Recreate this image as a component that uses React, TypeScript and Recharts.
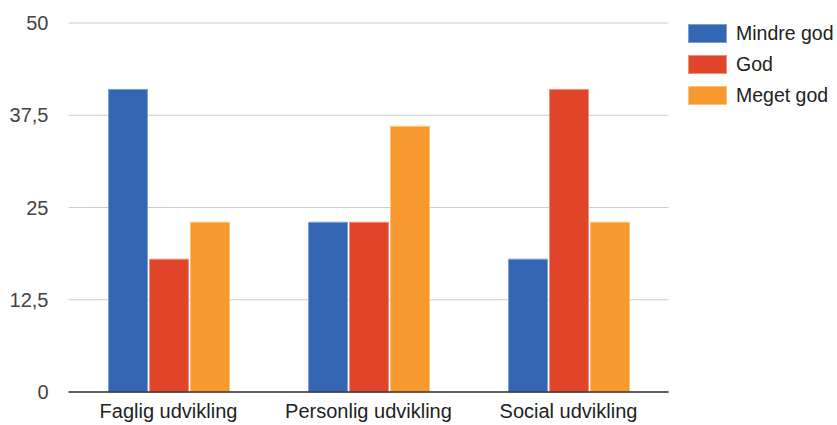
import React from 'react';
import { BarChart, Bar, XAxis, YAxis, CartesianGrid } from 'recharts';

const categories = ['Faglig udvikling', 'Personlig udvikling', 'Social udvikling'];
const mindreGod = [41, 23, 18];
const god = [18, 23, 41];
const megetGod = [23, 36, 23];
const yTicks = [0, 12.5, 25, 37.5, 50];

const seriesNames = ['Mindre god', 'God', 'Meget god'];
const colors = ['#3366b3', '#e0452a', '#f8992f'];
const edges = ['#7d9fd2', '#ee8f7c', '#fbc27f'];

const data = categories.map((c, i) => ({
  name: c,
  a: mindreGod[i],
  b: god[i],
  c: megetGod[i],
}));

const FONT = '"Liberation Sans", Arial, sans-serif';

const LegendBox = () => (
  <div style={{ position: 'absolute', left: 688, top: 18, width: 149, fontFamily: FONT }}>
    {seriesNames.map((n, i) => (
      <div key={n} style={{ display: 'flex', alignItems: 'center', height: 31 }}>
        <div style={{ width: 39, height: 19, background: colors[i], boxSizing: 'border-box', border: `1px solid ${edges[i]}`, flexShrink: 0 }} />
        <span style={{ marginLeft: 9, fontSize: 19.5, color: '#222', lineHeight: '19px', whiteSpace: 'nowrap' }}>{n}</span>
      </div>
    ))}
  </div>
);

export default function App() {
  return (
    <div style={{ position: 'absolute', left: 0, top: 0, width: 837, height: 425, background: '#fff' }}>
      <BarChart
        width={837}
        height={425}
        data={data}
        margin={{ top: 23, right: 168.5, bottom: 0, left: 0 }}
        barCategoryGap="20%"
        barGap={2}
      >
        <CartesianGrid vertical={false} stroke="#cccccc" />
        <XAxis
          dataKey="name"
          axisLine={{ stroke: '#333', strokeWidth: 1.5 }}
          tickLine={false}
          tickSize={0}
          tickMargin={12}
          height={33}
          tick={{ fontSize: 20, fill: '#222', fontFamily: FONT }}
        />
        <YAxis
          domain={[0, 50]}
          ticks={yTicks}
          width={68.5}
          axisLine={false}
          tickLine={false}
          tickSize={0}
          tickMargin={20}
          tickFormatter={(v: number) => String(v).replace('.', ',')}
          tick={{ fontSize: 20, fill: '#444', fontFamily: FONT }}
        />
        <Bar dataKey="a" name={seriesNames[0]} fill={colors[0]} stroke={edges[0]} strokeWidth={1} isAnimationActive={false} />
        <Bar dataKey="b" name={seriesNames[1]} fill={colors[1]} stroke={edges[1]} strokeWidth={1} isAnimationActive={false} />
        <Bar dataKey="c" name={seriesNames[2]} fill={colors[2]} stroke={edges[2]} strokeWidth={1} isAnimationActive={false} />
      </BarChart>
      <LegendBox />
    </div>
  );
}
